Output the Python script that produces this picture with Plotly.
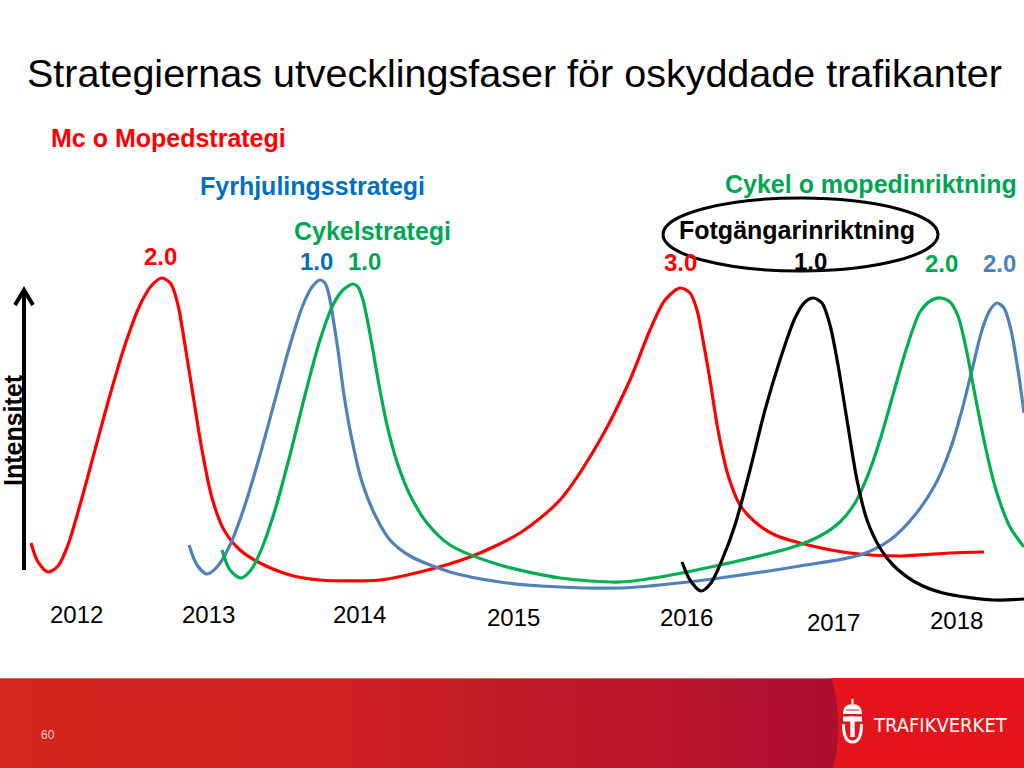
import plotly.graph_objects as go

# ---------------- data (slide pixel coordinates) ----------------
title_text = "Strategiernas utvecklingsfaser för oskyddade trafikanter"

years = ["2012", "2013", "2014", "2015", "2016", "2017", "2018"]
year_x = [76, 208, 359, 513, 686, 833, 956]
year_y = [614, 614, 614, 617, 617, 622, 620]

mc_x = [31, 38, 48, 58, 68, 80, 95, 110, 125, 140, 152, 162, 171, 178, 185, 193, 202, 212, 224, 240, 260, 290, 320, 380,
        420, 470, 520, 560, 600, 630, 650, 665, 680, 690, 697, 703, 710, 718, 728, 740, 755, 775, 800, 850, 900, 950, 984]
mc_y = [543, 562, 572, 566, 545, 505, 450, 395, 345, 305, 285, 278, 284, 305, 345, 395, 450, 498, 530, 550, 563, 575, 580, 580,
        572, 557, 533, 500, 440, 380, 330, 300, 288, 293, 310, 340, 380, 430, 475, 505, 522, 535, 543, 553, 556, 553, 552]

fyr_x = [189, 197, 207, 217, 230, 245, 260, 275, 290, 303, 312, 320, 325, 329, 333, 338, 344, 352, 362, 375, 390, 410,
         450, 500, 560, 620, 660, 720, 800, 860, 890, 915, 935, 950, 962, 972, 982, 990, 997, 1004, 1011, 1018, 1024]
fyr_y = [545, 565, 574, 567, 545, 505, 455, 400, 345, 305, 287, 280, 283, 295, 318, 350, 395, 440, 482, 515, 540, 556,
         572, 582, 587, 588, 585, 578, 566, 555, 540, 515, 485, 450, 410, 370, 330, 310, 303, 308, 330, 370, 413]

cyk_x = [222, 230, 241, 251, 262, 275, 290, 305, 320, 333, 343, 353, 358, 363, 367, 372, 379, 387, 397, 410, 427, 450,
         500, 560, 620, 660, 720, 793, 820, 840, 855, 868, 880, 893, 906, 920, 932, 941, 950, 958, 966, 975, 985, 996,
         1010, 1024]
cyk_y = [550, 570, 578, 570, 548, 510, 455, 395, 340, 305, 290, 284, 287, 300, 318, 345, 385, 425, 462, 495, 523, 545,
         565, 578, 582, 577, 565, 547, 536, 522, 503, 475, 440, 395, 350, 312, 300, 298, 302, 316, 348, 395, 445, 490,
         527, 547]

fot_x = [682, 690, 701, 711, 722, 735, 750, 765, 780, 795, 805, 813, 822, 830, 838, 847, 857, 867, 880, 893, 915, 943,
         993, 1024]
fot_y = [562, 580, 591, 583, 560, 525, 470, 410, 360, 318, 302, 298, 303, 325, 365, 420, 480, 520, 548, 565, 582, 593,
         600, 599]

labels = ["Mc o Mopedstrategi", "Fyrhjulingsstrategi", "Cykelstrategi", "Cykel o mopedinriktning", "Fotgängarinriktning"]
label_x = [49, 198, 292, 723, 677]
label_y = [138, 186, 231, 184, 230]
label_c = ["#ff0000", "#0070c0", "#00a651", "#00a651", "#000000"]

versions = ["2.0", "1.0", "1.0", "3.0", "1.0", "2.0", "2.0"]
version_x = [160, 316, 364, 680, 810, 941, 999]
version_y = [256, 261, 261, 262, 261, 263, 263]
version_c = ["#ff0000", "#0070c0", "#00a651", "#ff0000", "#000000", "#00a651", "#4f81bd"]

# ---------------- figure ----------------
fig = go.Figure()

curves = [
    (mc_x, mc_y, "#ff0000"),
    (fyr_x, fyr_y, "#4f81bd"),
    (cyk_x, cyk_y, "#00b050"),
    (fot_x, fot_y, "#000000"),
]
for xs, ys, col in curves:
    fig.add_trace(go.Scatter(x=xs, y=ys, mode="lines",
                             line=dict(color=col, width=3.2, shape="spline", smoothing=0.8),
                             hoverinfo="skip", showlegend=False))

shapes = []

# bottom banner gradient
def lerp(a, b, t):
    return tuple(round(a[i] + (b[i] - a[i]) * t) for i in range(3))

c0, c1, c2 = (212, 38, 28), (207, 33, 33), (172, 14, 48)
step = 16
x = 0
while x < 840:
    xm = x + step / 2
    if xm < 340:
        c = lerp(c0, c1, xm / 340)
    else:
        c = lerp(c1, c2, min(1, (xm - 340) / (832 - 340)))
    shapes.append(dict(type="rect", xref="x", yref="y", x0=x, x1=x + step + 0.5, y0=678, y1=768,
                       fillcolor="rgb(%d,%d,%d)" % c, line=dict(width=0), layer="below"))
    x += step
shapes.append(dict(type="line", xref="x", yref="y", x0=0, x1=1024, y0=678.5, y1=678.5,
                   line=dict(color="#e86060", width=1)))
# right red panel with curved edge
shapes.append(dict(type="path", xref="x", yref="y",
                   path="M 831,678 C 840,700 840,745 833,768 L 1024,768 L 1024,678 Z",
                   fillcolor="#e3141b", line=dict(width=0)))

# logo icon (crown + T)
shapes.append(dict(type="path", xref="x", yref="y",
                   path="M 843,714 Q 843,704 852.5,704 Q 862,704 862,714 Z",
                   fillcolor="white", line=dict(width=0)))
shapes.append(dict(type="line", xref="x", yref="y", x0=852.5, x1=852.5, y0=699, y1=704,
                   line=dict(color="white", width=2)))
shapes.append(dict(type="line", xref="x", yref="y", x0=846, x1=859, y0=710, y1=710,
                   line=dict(color="#e3141b", width=1)))
shapes.append(dict(type="rect", xref="x", yref="y", x0=843, x1=862, y0=716.5, y1=721.5,
                   fillcolor="white", line=dict(width=0)))
shapes.append(dict(type="rect", xref="x", yref="y", x0=850.3, x1=854.7, y0=716.5, y1=737,
                   fillcolor="white", line=dict(width=0)))
shapes.append(dict(type="path", xref="x", yref="y",
                   path="M 843.5,724 Q 843.5,742 852.5,742 Q 861.5,742 861.5,724",
                   line=dict(color="white", width=3)))

# Intensitet arrow
shapes.append(dict(type="line", xref="x", yref="y", x0=24, x1=24, y0=570, y1=291,
                   line=dict(color="black", width=4)))
shapes.append(dict(type="path", xref="x", yref="y",
                   path="M 15,305 L 24,290 L 33,305",
                   line=dict(color="black", width=4)))

# ellipse around Fotgängarinriktning
shapes.append(dict(type="circle", xref="x", yref="y", x0=663, x1=938, y0=198, y1=271,
                   line=dict(color="black", width=3)))

annotations = []
FONT = "Liberation Sans, Arial, sans-serif"
annotations.append(dict(x=25, y=73, xref="x", yref="y", text=title_text, showarrow=False,
                        xanchor="left", yanchor="middle", font=dict(family=FONT, size=39.5, color="black")))
for t, xx, yy, cc in zip(labels, label_x, label_y, label_c):
    annotations.append(dict(x=xx, y=yy, xref="x", yref="y", text="<b>%s</b>" % t, showarrow=False,
                            xanchor="left", yanchor="middle", font=dict(family=FONT, size=25, color=cc)))
for t, xx, yy, cc in zip(versions, version_x, version_y, version_c):
    annotations.append(dict(x=xx, y=yy, xref="x", yref="y", text="<b>%s</b>" % t, showarrow=False,
                            xanchor="center", yanchor="middle", font=dict(family=FONT, size=24, color=cc)))
for t, xx, yy in zip(years, year_x, year_y):
    annotations.append(dict(x=xx, y=yy, xref="x", yref="y", text=t, showarrow=False,
                            xanchor="center", yanchor="middle", font=dict(family=FONT, size=24, color="black")))
annotations.append(dict(x=13, y=430, xref="x", yref="y", text="<b>Intensitet</b>", showarrow=False,
                        textangle=-90, xanchor="center", yanchor="middle",
                        font=dict(family=FONT, size=25, color="black")))
annotations.append(dict(x=48, y=735, xref="x", yref="y", text="60", showarrow=False,
                        xanchor="center", yanchor="middle", font=dict(family=FONT, size=12, color="#f6cfc8")))
annotations.append(dict(x=871, y=725, xref="x", yref="y", text="TRAFIKVERKET", showarrow=False,
                        xanchor="left", yanchor="middle",
                        font=dict(family="Liberation Sans Narrow, DejaVu Sans Condensed, sans-serif", size=20,
                                  color="white")))

fig.update_layout(
    width=1024, height=768,
    margin=dict(l=0, r=0, t=0, b=0),
    paper_bgcolor="white", plot_bgcolor="white",
    xaxis=dict(range=[0, 1024], visible=False, fixedrange=True),
    yaxis=dict(range=[768, 0], visible=False, fixedrange=True),
    shapes=shapes, annotations=annotations,
    showlegend=False,
)

fig.write_html("out.html", config={"displayModeBar": False},
               post_script="document.body.style.margin='0';document.body.style.overflow='hidden';")
